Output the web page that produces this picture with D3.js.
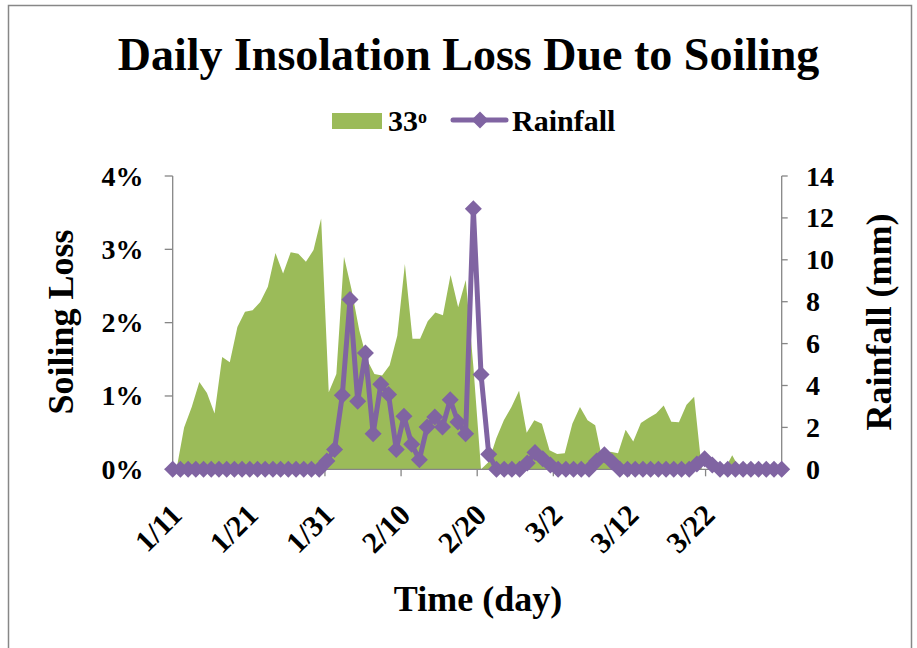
<!DOCTYPE html>
<html>
<head>
<meta charset="utf-8">
<script src="https://cdn.jsdelivr.net/npm/d3@7"></script>
<style>
  html, body { margin: 0; padding: 0; background: #fff; }
  svg text { font-family: "Liberation Serif", "Times New Roman", serif; font-weight: bold; fill: #000; }
</style>
</head>
<body>
<svg id="chart" width="917" height="648"></svg>
<script>
// ---- data ----
const dates = [
  "1/11","1/12","1/13","1/14","1/15","1/16","1/17","1/18","1/19","1/20",
  "1/21","1/22","1/23","1/24","1/25","1/26","1/27","1/28","1/29","1/30",
  "1/31","2/1","2/2","2/3","2/4","2/5","2/6","2/7","2/8","2/9",
  "2/10","2/11","2/12","2/13","2/14","2/15","2/16","2/17","2/18","2/19",
  "2/20","2/21","2/22","2/23","2/24","2/25","2/26","2/27","2/28","3/1",
  "3/2","3/3","3/4","3/5","3/6","3/7","3/8","3/9","3/10","3/11",
  "3/12","3/13","3/14","3/15","3/16","3/17","3/18","3/19","3/20","3/21",
  "3/22","3/23","3/24","3/25","3/26","3/27","3/28","3/29","3/30","3/31"
];
// soiling loss (%) for the 33 deg panel
const soiling33 = [
  0.00,0.57,0.85,1.19,1.04,0.76,1.53,1.46,1.94,2.15,
  2.17,2.28,2.49,2.95,2.67,2.96,2.94,2.83,2.99,3.42,
  1.05,1.30,2.90,2.45,1.90,1.50,1.30,1.28,1.42,1.82,
  2.80,1.78,1.78,2.02,2.14,2.10,2.65,2.21,2.58,1.40,
  0.00,0.10,0.42,0.67,0.85,1.07,0.50,0.67,0.62,0.26,
  0.21,0.22,0.62,0.85,0.67,0.60,0.10,0.24,0.22,0.54,
  0.38,0.63,0.70,0.76,0.87,0.65,0.64,0.88,0.99,0.00,
  0.00,0.00,0.00,0.19,0.00,0.00,0.00,0.00,0.00,0.00
];
// rainfall (mm)
const rainfall = [
  0,0,0,0,0,0,0,0,0,0,
  0,0,0,0,0,0,0,0,0,0,
  0.40,0.95,3.53,8.10,3.25,5.55,1.70,4.06,3.57,0.95,
  2.53,1.19,0.46,2.02,2.50,2.02,3.32,2.26,1.70,12.44,
  4.52,0.72,0,0,0,0,0.30,0.80,0.50,0.20,
  0,0,0,0,0,0.40,0.70,0.35,0,0,
  0,0,0,0,0,0,0,0,0.25,0.50,
  0.20,0,0,0,0,0,0,0,0,0
];
const xTickLabels = ["1/11","1/21","1/31","2/10","2/20","3/2","3/12","3/22"];
const yLeftTicks = [0, 1, 2, 3, 4];
const yRightTicks = [0, 2, 4, 6, 8, 10, 12, 14];

// ---- layout ----
const svg = d3.select("#chart");
const L = 172.7, R = 781.7, T = 176, B = 469.3;
const green = "#9BBB59", purple = "#8064A2", axisGray = "#868686";

svg.append("rect").attr("x", 8.5).attr("y", 5.5).attr("width", 903).attr("height", 700)
  .attr("fill", "#fff").attr("stroke", "#878787").attr("stroke-width", 1.5);

const xBand = d3.scaleBand().domain(dates).range([L, R]).paddingInner(0).paddingOuter(0);
const xPoint = d3.scalePoint().domain(dates).range([L, R]);
const yL = d3.scaleLinear().domain([0, 4]).range([B, T]);
const yR = d3.scaleLinear().domain([0, 14]).range([B, T]);

// area
const areaGen = d3.area()
  .x((d, i) => xBand(dates[i]) + xBand.bandwidth() / 2)
  .y0(yL(0)).y1(d => yL(d));
svg.append("path").datum(soiling33).attr("d", areaGen).attr("fill", green);

// axes
const gAx = svg.append("g").attr("stroke", axisGray).attr("stroke-width", 1.3).attr("fill", "none");
gAx.append("line").attr("x1", L).attr("x2", L).attr("y1", T).attr("y2", B);
gAx.append("line").attr("x1", R).attr("x2", R).attr("y1", T).attr("y2", B);
gAx.append("line").attr("x1", L).attr("x2", R).attr("y1", B).attr("y2", B);
yLeftTicks.forEach(v => gAx.append("line").attr("x1", L - 8).attr("x2", L).attr("y1", yL(v)).attr("y2", yL(v)));
yRightTicks.forEach(v => gAx.append("line").attr("x1", R).attr("x2", R + 6).attr("y1", yR(v)).attr("y2", yR(v)));
xTickLabels.forEach(t => gAx.append("line").attr("x1", xBand(t)).attr("x2", xBand(t)).attr("y1", B).attr("y2", B + 7));

// tick labels
svg.append("g").selectAll("text").data(yLeftTicks).join("text")
  .attr("x", 143.5).attr("y", d => yL(d)).attr("dy", "0.34em")
  .attr("text-anchor", "end").style("font-size", "28px").text(d => d + "%");
svg.append("g").selectAll("text").data(yRightTicks).join("text")
  .attr("x", 806).attr("y", d => yR(d)).attr("dy", "0.34em")
  .attr("text-anchor", "start").style("font-size", "28px").text(d => d);
svg.append("g").selectAll("text").data(xTickLabels).join("text")
  .attr("transform", d => `translate(${xBand(d) + 11},${517}) rotate(-45)`)
  .attr("text-anchor", "end").style("font-size", "30px").text(d => d);

// rainfall line
const lineGen = d3.line().x((d, i) => xPoint(dates[i])).y(d => yR(d));
svg.append("path").datum(rainfall).attr("d", lineGen)
  .attr("fill", "none").attr("stroke", purple).attr("stroke-width", 5).attr("stroke-linejoin", "round");
const diamond = s => `M0,${-s}L${s},0L0,${s}L${-s},0Z`;
svg.append("g").selectAll("path").data(rainfall).join("path")
  .attr("transform", (d, i) => `translate(${xPoint(dates[i])},${yR(d)})`)
  .attr("d", diamond(8.5)).attr("fill", purple);

// titles
svg.append("text").attr("x", 468.5).attr("y", 70).attr("text-anchor", "middle")
  .style("font-size", "46px").text("Daily Insolation Loss Due to Soiling");
svg.append("text").attr("transform", "translate(73,322) rotate(-90)").attr("text-anchor", "middle")
  .style("font-size", "36px").text("Soiling Loss");
svg.append("text").attr("transform", "translate(891,322) rotate(-90)").attr("text-anchor", "middle")
  .style("font-size", "36px").text("Rainfall (mm)");
svg.append("text").attr("x", 478).attr("y", 611).attr("text-anchor", "middle")
  .style("font-size", "36px").text("Time (day)");

// legend
const lg = svg.append("g");
lg.append("rect").attr("x", 332).attr("y", 113).attr("width", 50).attr("height", 16).attr("fill", green);
const t33 = lg.append("text").attr("x", 388).attr("y", 131).style("font-size", "30px");
t33.append("tspan").text("33");
t33.append("tspan").attr("dy", "-0.42em").style("font-size", "18px").text("o");
lg.append("line").attr("x1", 453).attr("x2", 506).attr("y1", 120).attr("y2", 120)
  .attr("stroke", purple).attr("stroke-width", 5).attr("stroke-linecap", "round");
lg.append("path").attr("transform", "translate(480,120)").attr("d", diamond(8.5)).attr("fill", purple);
lg.append("text").attr("x", 512).attr("y", 131).style("font-size", "30px").text("Rainfall");
</script>
</body>
</html>
